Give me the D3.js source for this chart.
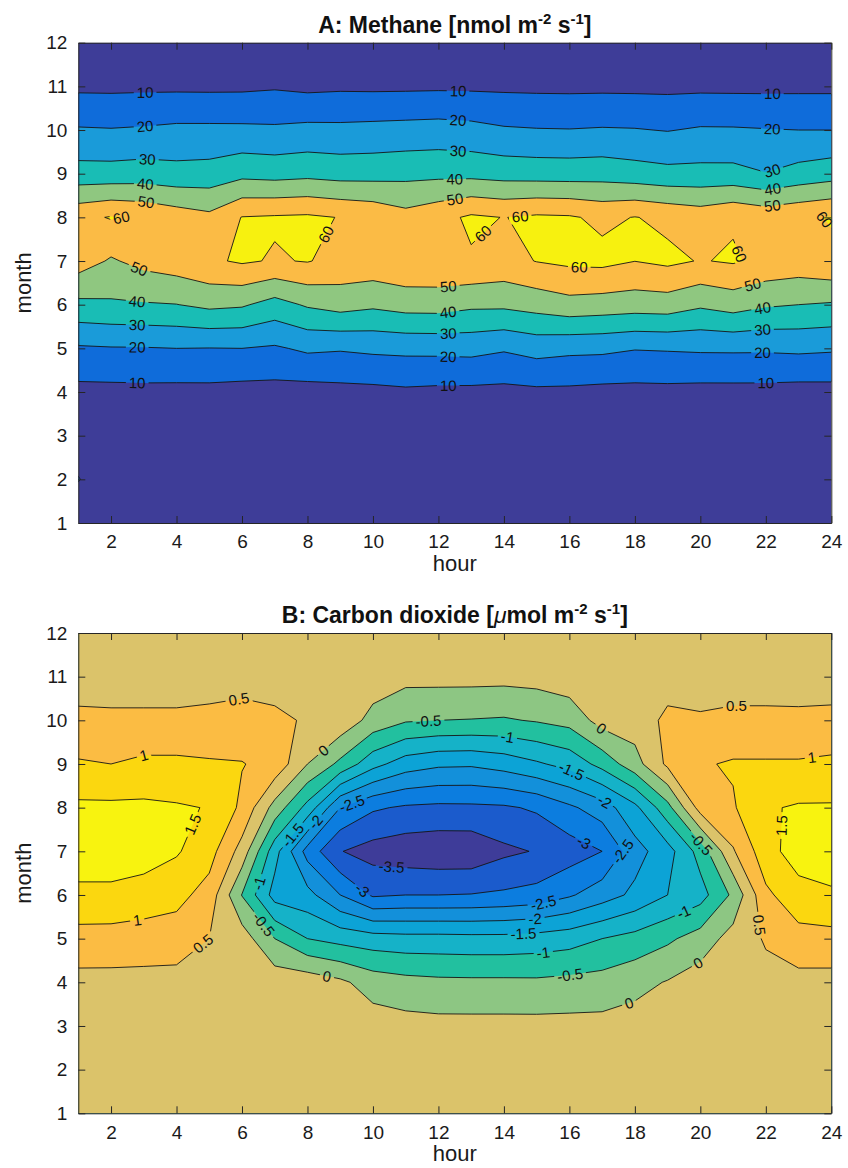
<!DOCTYPE html>
<html>
<head>
<meta charset="utf-8">
<script src="https://cdnjs.cloudflare.com/ajax/libs/d3/7.8.5/d3.min.js"></script>
<style>
body { margin: 0; background: #fff; }
text { font-family: "Liberation Sans", Arial, Helvetica, sans-serif; }
</style>
</head>
<body>
<div id="chart"></div>
<script>
// grid: hours 1..24 across, months 1..12 up
const hours = d3.range(1, 25);
const months = d3.range(1, 13);
const hourTicks = d3.range(2, 25, 2);

// A: methane, one row per month, values for hour 1..24
const ch4_m01 = [2.2,2.1,2.0,2.0,1.9,1.9,2.0,2.1,2.2,2.3,2.4,2.4,2.3,2.2,2.1,2.0,1.9,1.9,2.0,2.1,2.1,2.2,2.2,2.3];
const ch4_m02 = [10.5,2.6,2.5,2.4,2.3,2.3,2.4,2.5,2.6,2.7,2.8,2.8,2.7,2.6,2.5,2.4,2.3,2.3,2.4,2.5,2.5,2.6,2.6,2.7];
const ch4_m03 = [3.6,3.5,3.4,3.3,3.2,3.2,3.3,3.4,3.5,3.6,3.7,3.7,3.6,3.5,3.4,3.3,3.2,3.2,3.3,3.4,3.4,3.5,3.5,3.6];
const ch4_m04 = [7.2,7.3,7.5,7.3,7.4,6.7,6.6,6.3,7.1,7.5,8.4,7.8,7.7,7.4,8.1,8.0,7.3,7.2,7.4,7.0,7.0,7.0,6.4,6.6];
const ch4_m05 = [18.8,19.4,19.5,20.0,19.8,20.0,18.8,21.7,20.9,22.0,22.5,22.7,23.1,21.1,23.7,22.4,22.1,20.5,20.9,21.4,21.5,21.4,22.0,21.3];
const ch4_m06 = [37.6,38.6,39.2,39.8,42.3,41.2,36.2,41.2,44.0,41.9,44.1,44.3,42.0,42.0,44.0,46.7,45.7,44.8,45.3,41.6,44.3,41.2,40.0,39.0];
const ch4_m07 = [54.8,48.9,53.0,55.3,58.5,61.2,59.2,60.5,57.0,56.6,58.5,58.5,59.1,57.0,60.3,62.0,62.5,60.1,62.0,59.5,61.0,57.5,56.0,58.5];
const ch4_m08 = [57.5,60.6,58.7,55.3,52.4,60.3,61.0,61.5,59.7,57.7,53.4,57.0,61.5,59.8,61.5,61.0,58.1,60.3,58.0,55.7,59.0,56.5,58.5,60.5];
const ch4_m09 = [33.9,33.8,34.5,33.3,33.9,37.2,36.3,37.3,36.1,36.3,37.1,37.5,37.2,36.1,35.6,35.4,35.8,34.2,32.8,33.0,33.0,30.3,33.5,35.7];
const ch4_m10 = [20.9,20.5,21.1,22.1,22.1,22.0,21.6,22.6,22.4,22.9,23.4,23.9,23.0,21.1,20.5,20.3,20.8,20.5,19.6,21.0,20.9,20.4,20.0,20.0];
const ch4_m11 = [8.1,8.0,8.2,8.2,8.1,8.2,9.0,7.8,8.4,8.2,8.3,8.5,8.4,8.2,8.0,7.9,8.0,7.9,7.8,8.0,7.9,7.9,8.0,8.0];
const ch4_m12 = [3.0,3.1,3.0,2.9,3.0,3.1,3.2,3.0,2.9,3.0,3.1,3.0,2.9,3.0,3.1,3.0,2.9,3.0,3.1,3.0,2.9,3.0,3.1,3.0];
const ch4Levels = [10, 20, 30, 40, 50, 60];
const ch4Colors = ["#3e3d98", "#0f6cda", "#1a9bd9", "#19bdb5", "#8fc780", "#fbbb45", "#f7f10f"];
// label anchors: [level, hour, month]
const ch4Labels = [
  [10,3.04,10.87],[20,3.04,10.08],[30,3.1,9.2],[40,3.04,8.72],[50,3.06,8.3],[60,2.5,7.85],[60,8.6,7.6],[50,2.85,6.8],
  [40,2.8,6.1],[30,2.8,5.6],[20,2.8,5.05],[10,2.8,4.22],
  [10,12.6,10.9],[20,12.6,10.25],[30,12.6,9.5],[40,12.5,8.85],[50,12.5,8.45],
  [50,12.3,6.45],[40,12.3,5.8],[30,12.3,5.37],[20,12.3,4.86],[10,12.3,4.15],
  [60,13.4,7.6],[60,14.5,8.0],[60,16.3,6.8],[60,21.3,7.2],[60,23.7,7.9],
  [10,22.2,10.84],[20,22.2,10.04],[30,22.2,9.05],[40,22.2,8.7],[50,22.2,8.27],
  [50,21.6,6.45],[40,21.9,5.92],[30,21.9,5.42],[20,21.9,4.93],[10,22.0,4.2]
];

// B: carbon dioxide, one row per month, values for hour 1..24
const co2_m01 = [0.2,0.2,0.2,0.2,0.2,0.2,0.2,0.2,0.2,0.2,0.2,0.22,0.22,0.22,0.22,0.22,0.22,0.22,0.22,0.22,0.22,0.22,0.22,0.22];
const co2_m02 = [0.2,0.2,0.2,0.2,0.2,0.2,0.2,0.2,0.2,0.2,0.2,0.2,0.2,0.2,0.2,0.2,0.2,0.2,0.2,0.2,0.2,0.2,0.2,0.2];
const co2_m03 = [0.25,0.25,0.25,0.25,0.25,0.25,0.25,0.25,0.25,0.25,0.18,0.15,0.15,0.15,0.15,0.15,0.15,0.2,0.25,0.25,0.25,0.25,0.25,0.25];
const co2_m04 = [0.34,0.34,0.34,0.34,0.3,0.3,0.3,0.3,0.1,-0.23,-0.34,-0.39,-0.4,-0.4,-0.41,-0.36,-0.31,-0.15,0.03,0.25,0.25,0.35,0.34,0.34];
const co2_m05 = [0.83,0.82,0.78,0.74,0.5,0.25,-0.5,-1.0,-1.17,-1.28,-1.33,-1.33,-1.35,-1.35,-1.3,-1.21,-1.0,-0.83,-0.59,-0.28,0.2,0.55,0.83,0.83];
const co2_m06 = [1.35,1.35,1.27,1.16,0.8,-0.52,-1.7,-1.83,-2.5,-3.07,-3.0,-3.0,-2.98,-2.92,-2.83,-2.56,-2.23,-1.89,-1.5,-1.2,-0.4,0.9,1.3,1.45];
const co2_m07 = [1.85,1.85,1.75,1.55,1.2,0.3,-1.3,-2.7,-3.48,-3.7,-3.8,-3.85,-3.85,-3.6,-3.47,-3.25,-3.0,-2.2,-1.7,-0.8,0.45,1.3,1.75,1.7];
const co2_m08 = [1.6,1.6,1.6,1.55,1.48,0.9,-0.19,-1.17,-2.5,-2.93,-3.07,-3.11,-3.1,-3.07,-2.93,-2.59,-2.25,-1.63,-0.67,0.7,0.95,1.45,1.55,1.55];
const co2_m09 = [1.05,1.0,1.1,1.1,1.05,1.02,0.85,0.0,-0.62,-1.33,-1.75,-1.91,-1.93,-1.79,-1.57,-1.33,-0.83,-0.2,0.6,0.95,1.05,1.05,1.05,1.1];
const co2_m10 = [0.62,0.6,0.6,0.6,0.65,0.7,0.6,0.45,0.35,-0.18,-0.45,-0.5,-0.52,-0.55,-0.46,-0.33,0.2,0.25,0.6,0.55,0.6,0.6,0.6,0.62];
const co2_m11 = [0.25,0.25,0.25,0.25,0.25,0.3,0.3,0.3,0.3,0.3,0.15,0.16,0.16,0.15,0.18,0.3,0.3,0.3,0.3,0.3,0.3,0.3,0.28,0.28];
const co2_m12 = [0.22,0.22,0.22,0.22,0.22,0.22,0.22,0.22,0.22,0.22,0.22,0.25,0.25,0.25,0.25,0.25,0.25,0.25,0.25,0.25,0.25,0.25,0.25,0.25];
const co2Levels = [-3.5, -3, -2.5, -2, -1.5, -1, -0.5, 0, 0.5, 1, 1.5];
const co2Colors = ["#3e3c99", "#1b5bcc", "#0c7ddf", "#1390da", "#0ca3d6", "#15b2c8", "#22c09f",
                   "#8dc683", "#dbc36a", "#fbbc43", "#fbd70f", "#f8f30f"];
const co2Labels = [
  [0.5,5.94,10.32],[1,3.0,9.2],[1.5,4.55,7.6],[0,8.5,9.3],[-0.5,11.7,9.93],[-1.5,7.5,7.4],[-2,8.2,7.7],
  [-2.5,9.4,8.0],[-3.5,10.6,6.95],[0,17.0,9.84],[-1,14.1,9.58],[-1.5,16.1,8.9],[-2,17.2,8.3],[-3,16.5,7.3],
  [-2.5,17.9,7.0],[-0.5,20.2,7.3],[0.5,21.1,10.35],[1,23.4,9.2],[1.5,22.2,7.6],[1,2.8,5.43],[0.5,4.85,4.85],
  [-1,6.5,6.27],[-0.5,6.7,5.35],[0,8.6,4.15],[-3,9.9,6.33],[-2.5,15.2,5.84],[-2,14.95,5.45],[-1.5,14.6,5.1],
  [-1,15.2,4.7],[-0.5,16.0,4.28],[0,17.8,3.57],[0,19.9,4.48],[-1,19.5,5.6],[0.5,21.7,5.3]
];

const svg = d3.select("#chart").append("svg").attr("width", 848).attr("height", 1168);
const defs = svg.append("defs");

const left = 78.3, right = 831.3, plotH = 480.3;
const x = d3.scaleLinear().domain([1, 24]).range([left, right]);

function drawPanel(id, top, rows, levels, colors, labels, title) {
  const y = d3.scaleLinear().domain([1, 12]).range([top + plotH, top]);
  const values = rows.flat();
  const contours = d3.contours().size([hours.length, months.length]).thresholds(levels)(values);
  const toPx = p => [x(p[0] + 0.5), y(p[1] + 0.5)];
  const path = d3.geoPath(d3.geoTransform({
    point(cx, cy) { const p = toPx([cx, cy]); this.stream.point(p[0], p[1]); }
  }));

  defs.append("clipPath").attr("id", "clip" + id).append("rect")
    .attr("x", left).attr("y", top).attr("width", right - left).attr("height", plotH);
  const mask = defs.append("mask").attr("id", "mask" + id).attr("maskUnits", "userSpaceOnUse")
    .attr("x", 0).attr("y", 0).attr("width", 848).attr("height", 1168);
  mask.append("rect").attr("width", 848).attr("height", 1168).attr("fill", "#fff");

  const g = svg.append("g").attr("clip-path", `url(#clip${id})`);
  g.append("rect").attr("x", left).attr("y", top).attr("width", right - left).attr("height", plotH)
    .attr("fill", colors[0]);
  g.append("g").selectAll("path").data(contours).join("path")
    .attr("d", path).attr("fill", (d, i) => colors[i + 1]);
  g.append("g").attr("mask", `url(#mask${id})`).selectAll("path").data(contours).join("path")
    .attr("d", path).attr("fill", "none").attr("stroke", "#151515").attr("stroke-width", 0.9)
    .attr("stroke-linejoin", "round");

  // contour labels, snapped to the nearest point of their line
  const inside = p => p[0] > left + 1 && p[0] < right - 1 && p[1] > top + 1 && p[1] < top + plotH - 1;
  labels.forEach(([lev, h, m]) => {
    const c = contours[levels.indexOf(lev)];
    const px = x(h), py = y(m);
    let best = null;
    c.coordinates.forEach(poly => poly.forEach(ring => {
      for (let i = 1; i < ring.length; i++) {
        const a = toPx(ring[i - 1]), b = toPx(ring[i]);
        if (!inside(a) && !inside(b)) continue;
        const dx = b[0] - a[0], dy = b[1] - a[1];
        const len2 = dx * dx + dy * dy;
        if (len2 === 0) continue;
        let t = ((px - a[0]) * dx + (py - a[1]) * dy) / len2;
        t = Math.max(0, Math.min(1, t));
        const qx = a[0] + t * dx, qy = a[1] + t * dy;
        if (!inside([qx, qy])) continue;
        const d2 = (qx - px) ** 2 + (qy - py) ** 2;
        if (!best || d2 < best.d2) best = { d2, qx, qy, ang: Math.atan2(dy, dx) * 180 / Math.PI };
      }
    }));
    if (!best) return;
    let ang = best.ang;
    if (ang > 90) ang -= 180;
    if (ang <= -90) ang += 180;
    const tr = `translate(${best.qx},${best.qy}) rotate(${ang})`;
    const txt = svg.append("text").attr("transform", tr)
      .attr("text-anchor", "middle").attr("dy", "0.36em")
      .attr("font-size", 15).attr("fill", "#111").text(String(lev));
    const w = txt.node().getComputedTextLength();
    mask.append("rect").attr("transform", tr)
      .attr("x", -w / 2 - 3).attr("y", -7.5).attr("width", w + 6).attr("height", 15).attr("fill", "#000");
  });

  // axes, ticks inside, box all round
  const axisColor = "#262626";
  const gb = svg.append("g").attr("transform", `translate(0,${top + plotH})`)
    .call(d3.axisBottom(x).tickValues(hourTicks).tickSize(-7).tickSizeOuter(0).tickPadding(12));
  const gl = svg.append("g").attr("transform", `translate(${left},0)`)
    .call(d3.axisLeft(y).tickValues(months).tickSize(-7).tickSizeOuter(0).tickPadding(11));
  const gt = svg.append("g").attr("transform", `translate(0,${top})`)
    .call(d3.axisTop(x).tickValues(hourTicks).tickSize(-7).tickSizeOuter(0).tickFormat(() => ""));
  const gr = svg.append("g").attr("transform", `translate(${right},0)`)
    .call(d3.axisRight(y).tickValues(months).tickSize(-7).tickSizeOuter(0).tickFormat(() => ""));
  [gb, gl, gt, gr].forEach(a => {
    a.attr("font-size", 19).attr("font-family", null);
    a.selectAll(".domain").attr("stroke", axisColor);
    a.selectAll(".tick line").attr("stroke", axisColor);
    a.selectAll(".tick text").attr("fill", "#1a1a1a");
  });

  svg.append("text").attr("x", (left + right) / 2).attr("y", top + plotH + 48)
    .attr("text-anchor", "middle").attr("font-size", 22).attr("fill", "#1a1a1a").text("hour");
  svg.append("text").attr("transform", `translate(31,${top + plotH / 2}) rotate(-90)`)
    .attr("text-anchor", "middle").attr("font-size", 22).attr("fill", "#1a1a1a").text("month");

  const tt = svg.append("text").attr("x", (left + right) / 2).attr("y", top - 10)
    .attr("text-anchor", "middle").attr("font-size", 23).attr("font-weight", "bold").attr("fill", "#111");
  title.forEach(part => {
    const s = tt.append("tspan").text(part.t);
    if (part.sup) s.attr("dy", -9).attr("font-size", 15);
    if (part.after) s.attr("dy", 9);
    if (part.it) s.attr("font-style", "italic").attr("font-weight", "normal");
  });
}

drawPanel("A", 42.7,
  [ch4_m01, ch4_m02, ch4_m03, ch4_m04, ch4_m05, ch4_m06, ch4_m07, ch4_m08, ch4_m09, ch4_m10, ch4_m11, ch4_m12],
  ch4Levels, ch4Colors, ch4Labels,
  [{ t: "A: Methane [nmol m" }, { t: "-2", sup: true }, { t: " s", after: true }, { t: "-1", sup: true }, { t: "]", after: true }]);

drawPanel("B", 633,
  [co2_m01, co2_m02, co2_m03, co2_m04, co2_m05, co2_m06, co2_m07, co2_m08, co2_m09, co2_m10, co2_m11, co2_m12],
  co2Levels, co2Colors, co2Labels,
  [{ t: "B: Carbon dioxide [" }, { t: "\u03bc", it: true }, { t: "mol m" }, { t: "-2", sup: true }, { t: " s", after: true }, { t: "-1", sup: true }, { t: "]", after: true }]);
</script>
</body>
</html>
